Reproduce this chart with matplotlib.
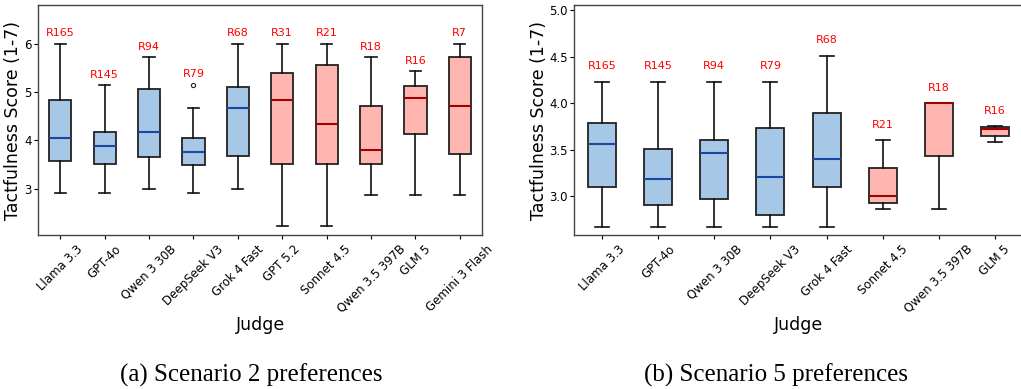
import matplotlib
matplotlib.use("Agg")
import matplotlib.pyplot as plt

# scenario 2 (left panel)
judges_a = ["Llama 3.3", "GPT-4o", "Qwen 3 30B", "DeepSeek V3", "Grok 4 Fast",
            "GPT 5.2", "Sonnet 4.5", "Qwen 3.5 397B", "GLM 5", "Gemini 3 Flash"]
counts_a = [165, 145, 94, 79, 68, 31, 21, 18, 16, 7]
whislo_a = [2.90, 2.90, 3.00, 2.90, 3.00, 2.23, 2.23, 2.87, 2.87, 2.87]
q1_a = [3.58, 3.50, 3.65, 3.49, 3.68, 3.50, 3.50, 3.50, 4.14, 3.71]
med_a = [4.04, 3.88, 4.17, 3.76, 4.67, 4.84, 4.33, 3.79, 4.88, 4.70]
q3_a = [4.83, 4.17, 5.07, 4.04, 5.10, 5.40, 5.56, 4.72, 5.13, 5.72]
whishi_a = [6.00, 5.14, 5.72, 4.67, 6.00, 6.00, 6.00, 5.72, 5.43, 6.00]
fliers_a = [[], [], [], [5.15], [], [], [], [], [], []]
n_blue_a = 5

# scenario 5 (right panel)
judges_b = ["Llama 3.3", "GPT-4o", "Qwen 3 30B", "DeepSeek V3", "Grok 4 Fast",
            "Sonnet 4.5", "Qwen 3.5 397B", "GLM 5"]
counts_b = [165, 145, 94, 79, 68, 21, 18, 16]
whislo_b = [2.67, 2.67, 2.67, 2.67, 2.67, 2.86, 2.86, 3.58]
q1_b = [3.10, 2.90, 2.97, 2.80, 3.10, 2.93, 3.43, 3.65]
med_b = [3.56, 3.18, 3.46, 3.20, 3.40, 3.00, 4.00, 3.72]
q3_b = [3.79, 3.51, 3.60, 3.73, 3.89, 3.30, 4.00, 3.74]
whishi_b = [4.23, 4.23, 4.23, 4.23, 4.51, 3.60, 4.00, 3.75]
fliers_b = [[], [], [], [], [], [], [], []]
n_blue_b = 5

BLUE_FILL, BLUE_MED = "#a7c7e7", "#1a47a0"
RED_FILL, RED_MED = "#ffb6b0", "#a00000"

plt.rcParams["font.family"] = "DejaVu Sans"
fig = plt.figure(figsize=(10.21, 3.89), dpi=100)
ax_a = fig.add_axes([38 / 1021, 1 - 235 / 389, 444 / 1021, 230 / 389])
ax_b = fig.add_axes([574 / 1021, 1 - 235 / 389, 449 / 1021, 230 / 389])


def draw(ax, judges, counts, wl, q1, med, q3, wh, fl, n_blue, ylim, off, ylab_x):
    stats = []
    for i in range(len(judges)):
        stats.append(dict(med=med[i], q1=q1[i], q3=q3[i], whislo=wl[i],
                          whishi=wh[i], fliers=fl[i], label=judges[i]))
    bp = ax.bxp(stats, widths=0.5, patch_artist=True,
                boxprops=dict(edgecolor="#222222", linewidth=1.3),
                whiskerprops=dict(color="#111111", linewidth=1.2),
                capprops=dict(color="#111111", linewidth=1.2),
                medianprops=dict(linewidth=1.5),
                flierprops=dict(marker="o", markersize=3, markerfacecolor="none",
                                markeredgecolor="#222222", markeredgewidth=0.8))
    for i, (box, m) in enumerate(zip(bp["boxes"], bp["medians"])):
        if i < n_blue:
            box.set_facecolor(BLUE_FILL)
            m.set_color(BLUE_MED)
        else:
            box.set_facecolor(RED_FILL)
            m.set_color(RED_MED)
    for i, c in enumerate(counts):
        top = max([wh[i]] + list(fl[i]))
        ax.text(i + 1, top + off, "R%d" % c, color="red", fontsize=8,
                ha="center", va="center")
    ax.set_xlim(0.5, len(judges) + 0.5)
    ax.set_ylim(*ylim)
    ax.tick_params(axis="x", labelsize=8.5, rotation=45, length=3, pad=2.5)
    ax.tick_params(axis="y", labelsize=8.5, length=3, pad=1.5)
    for s in ax.spines.values():
        s.set_color("#444444")
        s.set_linewidth(1.0)
    ax.set_xlabel("Judge", fontsize=12.5)
    ax.xaxis.set_label_coords(0.5, -0.39)
    ax.xaxis.label.set_verticalalignment("center")
    ax.set_ylabel("Tactfulness Score (1-7)", fontsize=12.5)
    ax.yaxis.set_label_coords(ylab_x, 0.5)
    ax.yaxis.label.set_verticalalignment("center")


draw(ax_a, judges_a, counts_a, whislo_a, q1_a, med_a, q3_a, whishi_a, fliers_a,
     n_blue_a, (2.04, 6.80), 0.22, -0.056)
ax_a.set_yticks([3, 4, 5, 6])

draw(ax_b, judges_b, counts_b, whislo_b, q1_b, med_b, q3_b, whishi_b, fliers_b,
     n_blue_b, (2.58, 5.057), 0.167, -0.077)
ax_b.set_yticks([3.0, 3.5, 4.0, 4.5, 5.0])
ax_b.set_yticklabels(["3.0", "3.5", "4.0", "4.5", "5.0"])

fig.text(251 / 1021, 1 - 375 / 389, "(a) Scenario 2 preferences",
         family="Liberation Serif", fontsize=18, ha="center", va="center")
fig.text(776 / 1021, 1 - 375 / 389, "(b) Scenario 5 preferences",
         family="Liberation Serif", fontsize=18, ha="center", va="center")

fig.savefig("out.png", dpi=100)
